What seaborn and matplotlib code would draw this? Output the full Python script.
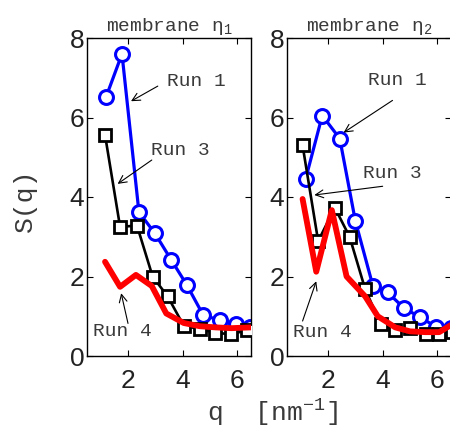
import matplotlib
matplotlib.use("Agg")
import matplotlib.pyplot as plt
import seaborn as sns
import pandas as pd

# ---------------- data ----------------
# membrane eta_1
q1_run1 = [1.20, 1.78, 2.40, 2.98, 3.58, 4.15, 4.75, 5.35, 5.95, 6.45]
s1_run1 = [6.52, 7.60, 3.62, 3.09, 2.42, 1.79, 1.03, 0.90, 0.80, 0.72]
q1_run3 = [1.16, 1.71, 2.33, 2.90, 3.45, 4.04, 4.62, 5.20, 5.78, 6.36]
s1_run3 = [5.56, 3.25, 3.28, 2.00, 1.50, 0.76, 0.68, 0.58, 0.55, 0.65]
q1_run4 = [1.16, 1.71, 2.29, 2.87, 3.40, 4.04, 4.62, 5.20, 5.78, 6.50]
s1_run4 = [2.37, 1.74, 2.04, 1.76, 1.07, 0.83, 0.75, 0.72, 0.70, 0.72]
# membrane eta_2
q2_run1 = [1.18, 1.79, 2.43, 3.00, 3.64, 4.18, 4.79, 5.36, 5.96, 6.50]
s2_run1 = [4.45, 6.05, 5.47, 3.40, 1.77, 1.60, 1.20, 0.98, 0.73, 0.70]
q2_run3 = [1.07, 1.64, 2.25, 2.79, 3.36, 3.93, 4.46, 5.00, 5.57, 6.07, 6.55]
s2_run3 = [5.30, 2.89, 3.73, 3.00, 1.68, 0.80, 0.65, 0.70, 0.55, 0.55, 0.60]
q2_run4 = [1.07, 1.57, 2.14, 2.68, 3.36, 3.82, 4.46, 5.00, 5.57, 6.07, 6.50]
s2_run4 = [3.95, 2.12, 3.67, 2.00, 1.50, 1.00, 0.72, 0.62, 0.60, 0.60, 0.78]

titles = [r"membrane $\eta_1$", r"membrane $\eta_2$"]
yticks = [0, 2, 4, 6, 8]
xticks = [2, 4, 6]

sns.set_style("ticks")
plt.rcParams["font.family"] = ["Liberation Sans", "DejaVu Sans"]
plt.rcParams["mathtext.fontset"] = "custom"
plt.rcParams["mathtext.rm"] = "Liberation Mono"
plt.rcParams["mathtext.it"] = "Liberation Mono"
plt.rcParams["mathtext.default"] = "rm"

mono = ["Liberation Mono", "DejaVu Sans Mono"]
txtc = "#3a3a3a"

fig = plt.figure(figsize=(4.5, 4.38), dpi=100)
ax1 = fig.add_axes([87/450, 82/438, 164/450, 318/438])
ax2 = fig.add_axes([287/450, 82/438, 164/450, 318/438])

panels = [
    (ax1, q1_run1, s1_run1, q1_run3, s1_run3, q1_run4, s1_run4),
    (ax2, q2_run1, s2_run1, q2_run3, s2_run3, q2_run4, s2_run4),
]

for i, (ax, qa, sa, qb, sb, qc, sc) in enumerate(panels):
    sns.lineplot(x=qa, y=sa, ax=ax, color="#0000ff", lw=2.3, marker="o",
                 markersize=10, markeredgewidth=2.2, markerfacecolor="white",
                 markeredgecolor="#0000ff", sort=False, zorder=2)
    sns.lineplot(x=qb, y=sb, ax=ax, color="black", lw=1.9, marker="s",
                 markersize=8, markeredgewidth=2.0, markerfacecolor="white",
                 markeredgecolor="black", sort=False, zorder=3)
    sns.lineplot(x=qc, y=sc, ax=ax, color="#ff0000", lw=4.2, sort=False, zorder=4)
    ax.set_xlim(0.5, 6.5)
    ax.set_ylim(0, 8)
    ax.set_xticks(xticks)
    ax.set_yticks(yticks)
    ax.tick_params(direction="in", top=True, right=True, length=4, width=0.8,
                   labelsize=19, colors="black", labelcolor="#222222")
    ax.tick_params(axis="x", pad=9)
    ax.tick_params(axis="y", pad=2)
    for sp in ax.spines.values():
        sp.set_visible(True)
        sp.set_linewidth(1.0)
        sp.set_color("black")
    ax.set_title(titles[i], fontsize=14, family=mono, color=txtc, pad=5)

arrow = dict(arrowstyle="->", lw=0.8, color="black", mutation_scale=14,
             shrinkA=0, shrinkB=0)

# left panel annotations
ax1.annotate("", xy=(2.11, 6.41), xytext=(3.09, 6.79), arrowprops=arrow)
ax1.text(4.5, 6.9, "Run 1", family=mono, fontsize=14, color=txtc, ha="center", va="center")
ax1.annotate("", xy=(1.62, 4.33), xytext=(2.87, 4.93), arrowprops=arrow)
ax1.text(3.9, 5.18, "Run 3", family=mono, fontsize=14, color=txtc, ha="center", va="center")
ax1.annotate("", xy=(1.75, 1.58), xytext=(2.0, 0.82), arrowprops=arrow)
ax1.text(1.78, 0.62, "Run 4", family=mono, fontsize=14, color=txtc, ha="center", va="center")

# right panel annotations
ax2.annotate("", xy=(2.57, 5.62), xytext=(4.36, 6.43), arrowprops=arrow)
ax2.text(4.54, 6.93, "Run 1", family=mono, fontsize=14, color=txtc, ha="center", va="center")
ax2.annotate("", xy=(1.5, 4.05), xytext=(4.0, 4.27), arrowprops=arrow)
ax2.text(4.36, 4.58, "Run 3", family=mono, fontsize=14, color=txtc, ha="center", va="center")
ax2.annotate("", xy=(1.57, 1.88), xytext=(1.07, 0.88), arrowprops=arrow)
ax2.text(1.79, 0.6, "Run 4", family=mono, fontsize=14, color=txtc, ha="center", va="center")

fig.text(25/450, 1 - 200/438, "S(q)", family=mono, fontsize=19, color=txtc,
         rotation=90, ha="center", va="center")
fig.text(272/450, 1 - 413/438, r"q  [nm$^{-1}$]", family=mono, fontsize=19,
         color=txtc, ha="center", va="center")

fig.savefig("out.png", dpi=100)
